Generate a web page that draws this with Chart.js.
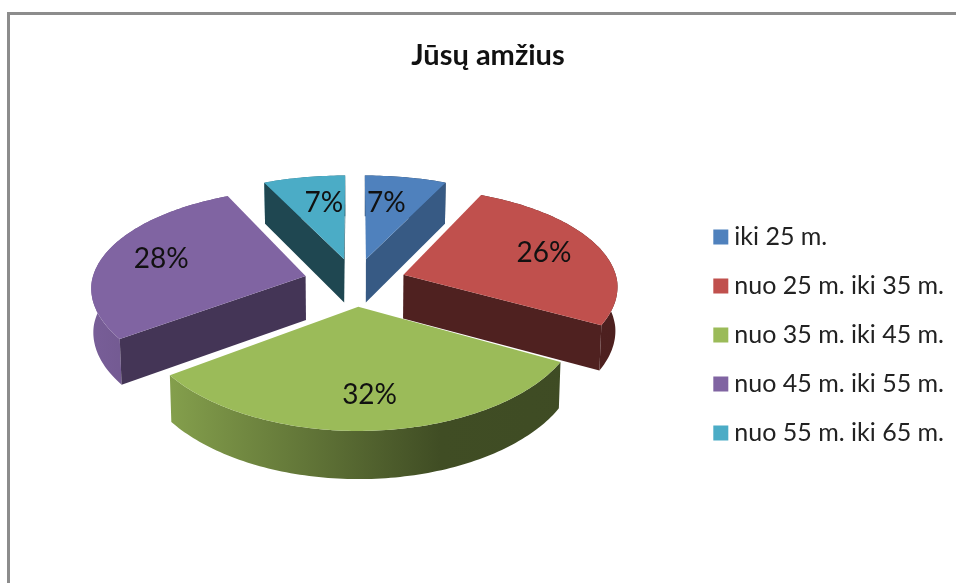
<!DOCTYPE html>
<html><head><meta charset="utf-8">
<script src="https://cdn.jsdelivr.net/npm/chart.js@4"></script>
<style>
html,body{margin:0;padding:0;background:#fff;width:956px;height:583px;overflow:hidden}
#frame{position:absolute;left:7px;top:12px;width:960px;height:590px;border-left:3px solid #8c8c8c;border-top:3px solid #8c8c8c;box-sizing:border-box}
#c{position:absolute;left:0;top:0;filter:blur(0.4px)}
</style></head><body>
<div id="frame"></div>
<canvas id="c" width="956" height="583"></canvas>
<script>
const categories=["iki 25 m.","nuo 25 m. iki 35 m.","nuo 35 m. iki 45 m.","nuo 45 m. iki 55 m.","nuo 55 m. iki 65 m."];
const values=[7,26,32,28,7];
const titleText="Jūsų amžius";
const colors=["#4F81BD","#C0504D","#9BBB59","#8064A2","#4BACC6"];
const wallShade=[0.70,0.41,0.5,0.53,0.41];
const labelRadius=[0.66,0.72,0.74,0.72,0.66];
const labelDx=[-7,0,0,0,7];
const font="Lato, Carlito, sans-serif";
const view={cx:355,cy:282,rx:214,ry:100.4,persp:0.1327,explode:0.24,depth:44};

function proj(X,Y){
  const w=1/(1-view.persp*Y);
  const wx=1/(1-view.persp*Y*(Y<0?0.85:0.75));
  return {x:view.cx+view.rx*X*wx,y:view.cy+view.ry*Y*w,w};
}
function down(p){return {x:view.cx+(p.x-view.cx)*0.992,y:p.y+view.depth*Math.sqrt(p.w),w:p.w};}
function hex(c,f){const n=parseInt(c.slice(1),16);
  return `rgb(${Math.round((n>>16&255)*f)},${Math.round((n>>8&255)*f)},${Math.round((n&255)*f)})`;}
function poly(ctx,pts,fill){ctx.beginPath();pts.forEach((p,i)=>i?ctx.lineTo(p.x,p.y):ctx.moveTo(p.x,p.y));ctx.closePath();ctx.fillStyle=fill;ctx.fill();}

const pie3d={
  id:'pie3d',
  beforeDatasetsDraw(chart){
    const ctx=chart.ctx,arcs=chart.getDatasetMeta(0).data;
    const geo=arcs.map((el,i)=>{
      const {startAngle:a0,endAngle:a1}=el.getProps(['startAngle','endAngle'],true);
      const mid=(a0+a1)/2,ox=view.explode*Math.cos(mid),oy=view.explode*Math.sin(mid);
      const at=(a,r)=>proj(ox+r*Math.cos(a),oy+r*Math.sin(a));
      const rim=[];const n=Math.max(6,Math.ceil((a1-a0)/0.02));
      for(let k=0;k<=n;k++)rim.push(at(a0+(a1-a0)*k/n,1));
      return {i,a0,a1,mid,at,rim,apex:at(0,0)};
    });
    const order=geo.slice().sort((p,q)=>Math.sin(p.mid)-Math.sin(q.mid));
    ctx.save();
    order.forEach(g=>{
      const col=colors[g.i];
      const gr=ctx.createLinearGradient(90,0,620,0);
      [[0,.94],[.15,.85],[.66,.41],[1,.40]].forEach(s=>gr.addColorStop(s[0],hex(col,s[1])));
      poly(ctx,g.rim.concat(g.rim.map(down).reverse()),gr);
      const wall=e=>{poly(ctx,[g.apex,e,down(e),down(g.apex)],hex(col,wallShade[g.i]));};
      if(Math.cos(g.a1)>0)wall(g.rim[g.rim.length-1]);
      if(Math.cos(g.a0)<0)wall(g.rim[0]);
      poly(ctx,[g.apex].concat(g.rim),col);
    });
    ctx.fillStyle="#111";ctx.font="28px "+font;ctx.textAlign="center";ctx.textBaseline="middle";
    geo.forEach(g=>{
      const p=g.at(g.mid,labelRadius[g.i]);
      ctx.fillText(values[g.i]+"%",p.x+labelDx[g.i],p.y);
    });
    ctx.restore();
    return false;
  }
};

new Chart(document.getElementById('c'),{
  type:'pie',
  plugins:[pie3d],
  data:{labels:categories,datasets:[{data:values,backgroundColor:colors,borderWidth:0}]},
  options:{
    responsive:false,animation:false,
    layout:{padding:{left:22,right:2,top:0,bottom:0}},
    plugins:{
      tooltip:{enabled:false},
      title:{display:true,text:titleText,color:"#111",font:{family:font,size:29,weight:'bold'},padding:{top:38,bottom:14}},
      legend:{position:'right',fullSize:false,labels:{usePointStyle:true,pointStyle:'rect',boxWidth:2,boxHeight:15,padding:24,color:"#222",font:{family:font,size:25}}}
    }
  }
});
</script>
</body></html>
